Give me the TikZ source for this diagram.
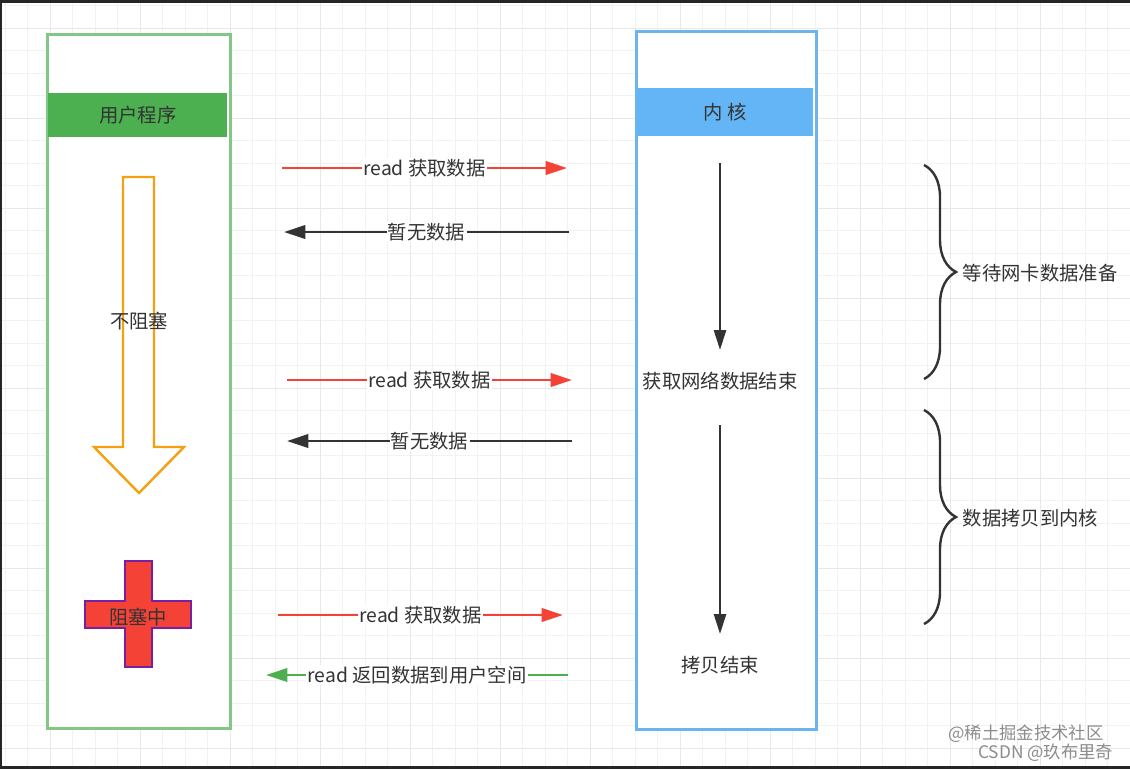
\documentclass[tikz,border=0pt]{standalone}
\usepackage{fontspec}
\setmainfont{Noto Sans CJK SC}
\usetikzlibrary{arrows.meta,positioning,decorations.pathreplacing}
\definecolor{lanegreen}{HTML}{82C785}
\definecolor{bandgreen}{HTML}{4CAF50}
\definecolor{laneblue}{HTML}{6CB4F0}
\definecolor{bandblue}{HTML}{64B5F6}
\definecolor{msgred}{HTML}{F44336}
\definecolor{msggreen}{HTML}{4CAF50}
\definecolor{hollow}{HTML}{F5A011}
\definecolor{crossred}{HTML}{F44336}
\definecolor{crosspurple}{HTML}{7B1FA2}
\definecolor{txt}{HTML}{333333}

\begin{document}
\begin{tikzpicture}[x=0.75pt,y=-0.75pt,font=\fontsize{14.5}{17}\selectfont,text=txt]
\tikzset{lane/.style={draw,line width=2pt,fill=white,anchor=north west,inner sep=0pt},
  band/.style={anchor=north west,inner sep=0pt},
  msg/.style={line width=2pt,-{Triangle[length=16pt,width=10pt]}},
  lbl/.style={fill=white,inner sep=1pt,text=txt},
  flow/.style={line width=2pt,draw=txt,-{Triangle[length=15pt,width=9pt]}},
  brc/.style={decorate,decoration={brace,amplitude=24pt},line width=1.8pt,draw=txt},
  wmark/.style={text=black!45,font=\fontsize{13}{15}\selectfont,anchor=west,inner sep=0pt}}
\useasboundingbox (0,0) rectangle (1130,769);
\fill[white] (0,0) rectangle (1130,769);
\foreach \k in {0,...,50} \draw[black!5,line width=0.75pt] ({5+22.5*\k},0) -- ({5+22.5*\k},769);
\foreach \k in {0,...,34} \draw[black!5,line width=0.75pt] (0,{5.5+22.5*\k}) -- (1130,{5.5+22.5*\k});
\foreach \k in {0,...,12} \draw[black!9,line width=0.75pt] ({50+90*\k},0) -- ({50+90*\k},769);
\foreach \k in {0,...,8} \draw[black!9,line width=0.75pt] (0,{28+90*\k}) -- (1130,{28+90*\k});
\fill[black!85] (0,0) rectangle (1130,3);
\fill[black!85] (0,0) rectangle (2,769);
\fill[black!85] (0,766) rectangle (1130,769);

\node[lane,draw=lanegreen,minimum width=137.25pt,minimum height=520.5pt] (user) at (46,33) {};
\node[band,fill=bandgreen,minimum width=134.25pt,minimum height=33pt] (userhd) at (48,93) {用户程序};
\node[lane,draw=laneblue,minimum width=135pt,minimum height=523.5pt] (kern) at (635,30) {};
\node[band,fill=bandblue,minimum width=132pt,minimum height=36pt] (kernhd) at (637,88) {内 核};

\draw[hollow,line width=1.8pt,fill=white] (123,177) -- (154,177) -- (154,447) -- (184,447) -- (139,493) -- (94,447) -- (123,447) -- cycle;
\node (nb) at (139,321) {不阻塞};
\draw[crosspurple,line width=1.8pt,fill=crossred] (125,561) -- (152,561) -- (152,601) -- (191,601) -- (191,628) -- (152,628) -- (152,667) -- (125,667) -- (125,628) -- (85,628) -- (85,601) -- (125,601) -- cycle;
\node (blk) at (138,617) {阻塞中};

\coordinate (m1s) at (282,168); \coordinate (m1e) at (567,168);
\coordinate (m2s) at (569,232); \coordinate (m2e) at (284,232);
\coordinate (m3s) at (287,380); \coordinate (m3e) at (572,380);
\coordinate (m4s) at (572,441); \coordinate (m4e) at (287,441);
\coordinate (m5s) at (278,615); \coordinate (m5e) at (563,615);
\coordinate (m6s) at (568,675); \coordinate (m6e) at (266,675);
\draw[msg,msgred] (m1s) -- node[lbl] (m1) {read 获取数据} (m1e);
\draw[msg,txt] (m2s) -- node[lbl] (m2) {暂无数据} (m2e);
\draw[msg,msgred] (m3s) -- node[lbl] (m3) {read 获取数据} (m3e);
\draw[msg,txt] (m4s) -- node[lbl] (m4) {暂无数据} (m4e);
\draw[msg,msgred] (m5s) -- node[lbl] (m5) {read 获取数据} (m5e);
\draw[msg,msggreen] (m6s) -- node[lbl] (m6) {read 返回数据到用户空间} (m6e);

\node (k1) at (720,381) {获取网络数据结束};
\node (k2) at (720,665) {拷贝结束};
\coordinate (k1s) at (720,163); \coordinate (k1e) at (720,350);
\coordinate (k2s) at (720,425); \coordinate (k2e) at (720,634);
\draw[flow] (k1s) -- (k1e);
\draw[flow] (k2s) -- (k2e);

\draw[brc] (924,165) -- (924,379);
\node[anchor=west] (w1) at (958,273) {等待网卡数据准备};
\draw[brc] (924,410) -- (924,624);
\node[anchor=west] (w2) at (958,518) {数据拷贝到内核};

\node[wmark] (wm1) at (948,734) {@稀土掘金技术社区};
\node[wmark] (wm2) at (978,753) {CSDN @玖布里奇};
\end{tikzpicture}
\end{document}
